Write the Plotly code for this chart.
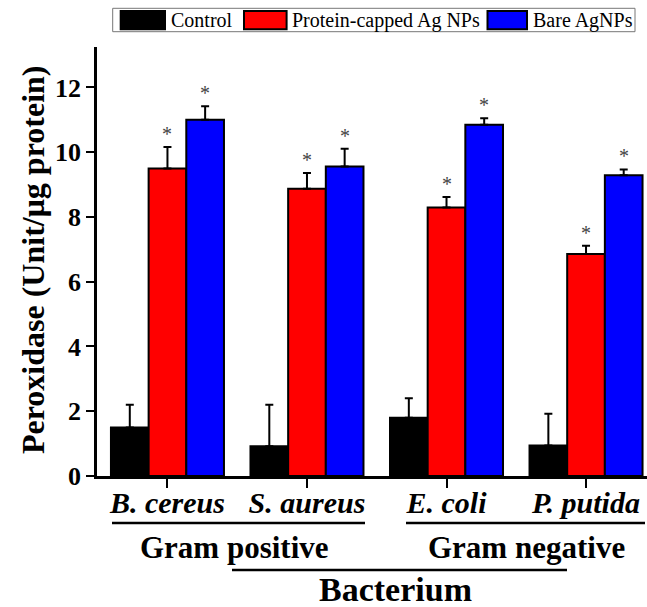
import plotly.graph_objects as go

# Peroxidase activity per bacterium and treatment
species = ["B. cereus", "S. aureus", "E. coli", "P. putida"]
treatments = ["Control", "Protein-capped Ag NPs", "Bare AgNPs"]
control = [1.50, 0.92, 1.80, 0.94]
control_err = [0.70, 1.28, 0.60, 0.98]
capped = [9.50, 8.87, 8.29, 6.86]
capped_err = [0.66, 0.49, 0.33, 0.25]
bare = [11.00, 9.56, 10.85, 9.29]
bare_err = [0.42, 0.55, 0.20, 0.18]
y_ticks = [0, 2, 4, 6, 8, 10, 12]

colors = ["#000000", "#ff0000", "#0000ff"]
FONT = "Liberation Serif, Times New Roman, serif"

W, H = 647, 607
L, R, T, B = 97, 0, 47, 131
PW, PH = W - L - R, H - T - B


def px(x):
    return (x - L) / PW


def py(y):
    return (H - B - y) / PH


xs = list(range(len(species)))
series = [(control, control_err), (capped, capped_err), (bare, bare_err)]

fig = go.Figure()
for name, (vals, errs), col in zip(treatments, series, colors):
    fig.add_trace(go.Bar(
        x=xs, y=vals, name=name,
        marker=dict(color=col, line=dict(color="black", width=2)),
        error_y=dict(type="data", array=errs, symmetric=False,
                     arrayminus=[0] * len(errs),
                     color="black", thickness=2, width=4),
        showlegend=False,
    ))

bar_w = (1 - 0.19) / 3
annotations = []
# significance stars above the treated bars
for k, (vals, errs) in enumerate(series):
    if k == 0:
        continue
    off = (k - 1) * bar_w
    for i, (v, e) in enumerate(zip(vals, errs)):
        annotations.append(dict(
            x=i + off, y=v + e, xref="x", yref="y", text="*",
            showarrow=False, yanchor="bottom", yshift=0,
            font=dict(family=FONT, size=20, color="#444444"),
        ))

# y-axis title
annotations.append(dict(
    x=px(33), y=py(260), xref="paper", yref="paper",
    text="<b>Peroxidase (Unit/μg protein)</b>", textangle=-90,
    showarrow=False, xanchor="center", yanchor="middle",
    font=dict(family=FONT, size=32, color="black"),
))

# group labels below the species names
for txt, cx, cy, sz in [("Gram positive", 234, 547, 31),
                        ("Gram negative", 526, 547, 31),
                        ("Bacterium", 396, 589, 34)]:
    annotations.append(dict(
        x=px(cx), y=py(cy), xref="paper", yref="paper",
        text="<b>%s</b>" % txt, showarrow=False,
        xanchor="center", yanchor="middle",
        font=dict(family=FONT, size=sz, color="black"),
    ))

shapes = []
for x0, x1, yy in [(112, 365, 523), (406, 645, 523), (232, 567, 570)]:
    shapes.append(dict(type="line", xref="paper", yref="paper",
                       x0=px(x0), x1=px(x1), y0=py(yy), y1=py(yy),
                       line=dict(color="black", width=2.5)))

# legend drawn as a framed row of wide swatches
shapes.append(dict(type="rect", xref="paper", yref="paper",
                   x0=px(112.7), x1=px(635), y0=py(31.7), y1=py(8.3),
                   line=dict(color="#777777", width=1), fillcolor="white"))
legend_items = [(120.7, 165, 169), (244, 286.6, 290), (487.5, 527, 530.5)]
for (sx0, sx1, tx), name, col in zip(legend_items, treatments, colors):
    shapes.append(dict(type="rect", xref="paper", yref="paper",
                       x0=px(sx0), x1=px(sx1), y0=py(29.3), y1=py(11),
                       line=dict(color="black", width=2), fillcolor=col))
    annotations.append(dict(
        x=px(tx), y=py(20), xref="paper", yref="paper", text=name,
        showarrow=False, xanchor="left", yanchor="middle",
        font=dict(family=FONT, size=20, color="black"),
    ))

fig.update_layout(
    width=W, height=H,
    margin=dict(l=L, r=R, t=T, b=B, pad=0),
    paper_bgcolor="white", plot_bgcolor="white",
    barmode="group", bargap=0.19, bargroupgap=0,
    annotations=annotations, shapes=shapes,
    font=dict(family=FONT, color="black"),
)
fig.update_xaxes(
    range=[-0.505, 3.437], tickvals=xs,
    ticktext=["<b><i>%s</i></b>" % s for s in species],
    ticks="outside", ticklen=9, tickwidth=2, tickcolor="black",
    showline=True, linewidth=2.5, linecolor="black",
    showgrid=False, zeroline=False, ticklabelstandoff=-11,
    tickfont=dict(family=FONT, size=30, color="black"),
)
fig.update_yaxes(
    range=[0, 13.25], tickvals=y_ticks,
    ticktext=["<b>%d</b>" % v for v in y_ticks],
    ticks="outside", ticklen=8, tickwidth=2, tickcolor="black",
    showline=True, linewidth=2.5, linecolor="black",
    showgrid=False, zeroline=False,
    tickfont=dict(family=FONT, size=26, color="black"),
)

fig.write_html("out.html")
